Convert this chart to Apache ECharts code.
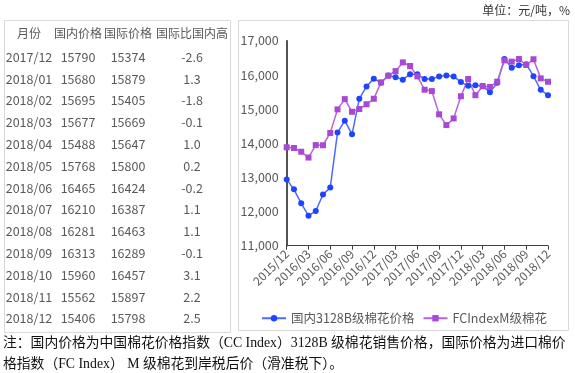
<!DOCTYPE html>
<html><head><meta charset="utf-8">
<script src="https://cdn.jsdelivr.net/npm/echarts@6/dist/echarts.min.js"></script>
<style>html,body{margin:0;padding:0;background:#fff}#c{width:575px;height:373px}</style>
</head><body><div id="c"></div>
<script>
const categories = ['2015/12','2016/01','2016/02','2016/03','2016/04','2016/05','2016/06','2016/07','2016/08','2016/09','2016/10','2016/11','2016/12',
'2017/01','2017/02','2017/03','2017/04','2017/05','2017/06','2017/07','2017/08','2017/09','2017/10','2017/11','2017/12',
'2018/01','2018/02','2018/03','2018/04','2018/05','2018/06','2018/07','2018/08','2018/09','2018/10','2018/11','2018/12'];
const domestic = [12940,12650,12240,11880,12015,12500,12700,14310,14660,14260,15300,15660,15890,
15770,15985,15930,15860,16020,16015,15880,15880,15955,15985,15955,15790,
15680,15695,15677,15488,15768,16465,16210,16281,16313,15960,15562,15406];
const international = [13880,13860,13750,13580,13945,13940,14300,14990,15290,14920,15000,15140,15300,
15780,15975,16110,16365,16260,15955,15565,15525,14845,14530,14725,15374,
15879,15405,15669,15647,15800,16424,16387,16463,16289,16457,15897,15798];
const tableHeader = ['月份','国内价格','国际价格','国际比国内高'];
const tableMonths = ['2017/12','2018/01','2018/02','2018/03','2018/04','2018/05','2018/06','2018/07','2018/08','2018/09','2018/10','2018/11','2018/12'];
const tableDomestic = ['15790','15680','15695','15677','15488','15768','16465','16210','16281','16313','15960','15562','15406'];
const tableIntl = ['15374','15879','15405','15669','15647','15800','16424','16387','16463','16289','16457','15897','15798'];
const tableDiff = ['-2.6','1.3','-1.8','-0.1','1.0','0.2','-0.2','1.1','1.1','-0.1','3.1','2.2','2.5'];
const seriesNames = ['国内3128B级棉花价格','FCIndexM级棉花'];
const unitText = '单位：元/吨，%';
const noteLines = ['注：国内价格为中国棉花价格指数（CC Index）3128B 级棉花销售价格，国际价格为进口棉价',
'格指数（FC Index） M 级棉花到岸税后价（滑准税下）。'];

const FONT = '"Noto Sans CJK SC", "Noto Sans", sans-serif';
const TXT = '#595959';
const colX = [29, 78, 128, 192];
const g = [];
g.push({type:'rect', shape:{x:4.5,y:20.5,width:226,height:312}, style:{fill:'none',stroke:'#d9d9d9',lineWidth:1}});
g.push({type:'rect', shape:{x:238.5,y:20.5,width:330,height:310}, style:{fill:'none',stroke:'#d9d9d9',lineWidth:1}});
tableHeader.forEach((h,i)=>g.push({type:'text', x:colX[i], y:33, style:{text:h, fill:TXT, font:'12px '+FONT, textAlign:'center', textVerticalAlign:'middle'}}));
const cols = [tableMonths, tableDomestic, tableIntl, tableDiff];
tableMonths.forEach((m,r)=>{
  cols.forEach((col,i)=>g.push({type:'text', x:colX[i], y:57+r*21.8, style:{text:col[r], fill:TXT, font:'12.5px '+FONT, textAlign:'center', textVerticalAlign:'middle'}}));
});
g.push({type:'text', x:570, y:10, style:{text:unitText, fill:'#333', font:'12px '+FONT, textAlign:'right', textVerticalAlign:'middle'}});
noteLines.forEach((t,i)=>g.push({type:'text', x:3, y:343+i*21, style:{text:t, fill:'#111', font:'13.8px "Liberation Serif", "Noto Sans CJK SC", serif', textAlign:'left', textVerticalAlign:'middle'}}));

const chart = echarts.init(document.getElementById('c'), null, {renderer:'canvas'});
chart.setOption({
  animation:false,
  grid:{left:286.7, right:27, top:40.7, bottom:127.3, containLabel:false},
  legend:{left:256, top:307, itemWidth:24, itemHeight:8, itemGap:8,
    textStyle:{color:TXT, fontSize:12.5, fontFamily:FONT}, data:seriesNames},
  xAxis:{type:'category', data:categories, boundaryGap:false,
    axisLine:{lineStyle:{color:'#404040', width:1}},
    axisTick:{interval:2, length:4, lineStyle:{color:'#404040'}},
    axisLabel:{interval:2, rotate:45, color:TXT, fontSize:12, fontFamily:FONT, margin:6}},
  yAxis:{type:'value', min:11000, max:17000, interval:1000,
    axisLine:{show:true, lineStyle:{color:'#1a1a1a', width:1.5}},
    axisTick:{show:false}, splitLine:{show:false},
    axisLabel:{color:TXT, fontSize:12.5, fontFamily:FONT, margin:8, formatter:v=>v.toLocaleString('en-US')}},
  series:[
    {name:seriesNames[0], type:'line', data:domestic, symbol:'circle', symbolSize:6, showAllSymbol:true, showSymbol:true,
      lineStyle:{color:'#4b6bff', width:1.5}, itemStyle:{color:'#1f44ff'}},
    {name:seriesNames[1], type:'line', data:international, symbol:'rect', symbolSize:6, showAllSymbol:true, showSymbol:true,
      lineStyle:{color:'#b565dc', width:1.5}, itemStyle:{color:'#a848d4'}}
  ],
  graphic:g
});
</script></body></html>
